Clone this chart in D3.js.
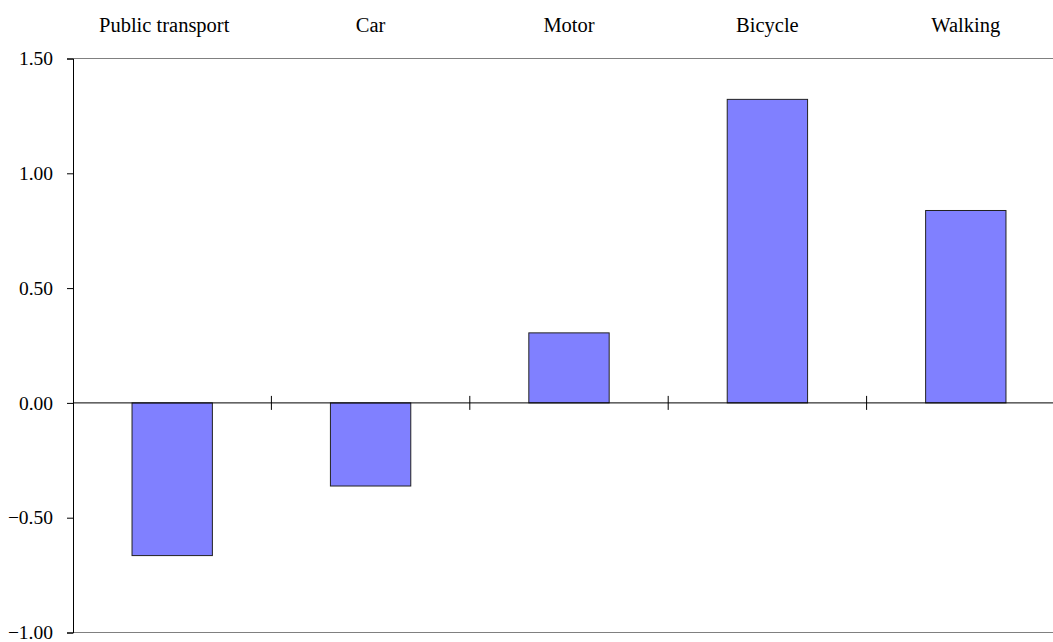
<!DOCTYPE html>
<html><head><meta charset="utf-8">
<script src="https://cdn.jsdelivr.net/npm/d3@7/dist/d3.min.js"></script>
<style>body{margin:0;background:#fff}svg{display:block}</style>
</head><body><svg id="c" width="1053" height="642"></svg>
<script>
const categories = ["Public transport","Car","Motor","Bicycle","Walking"];
const values = [-0.665, -0.362, 0.305, 1.322, 0.838];
const yTicks = [-1.0,-0.5,0,0.5,1.0,1.5];

const FONT = "'Liberation Serif', 'Times New Roman', Times, serif";
const svg = d3.select("#c");
const mLeft = 73, mRight = 1065, mTop = 58.5, mBottom = 632.5;
const x = d3.scaleBand().domain(categories).range([mLeft, mRight]);
const y = d3.scaleLinear().domain([-1, 1.5]).range([mBottom, mTop]);

svg.append("line").attr("x1",mLeft).attr("x2",1053).attr("y1",y(1.5)).attr("y2",y(1.5)).attr("stroke","#808080");
svg.append("line").attr("x1",mLeft).attr("x2",1053).attr("y1",y(-1)).attr("y2",y(-1)).attr("stroke","#808080");

const bw = x.bandwidth()*0.405;
svg.selectAll("rect.bar").data(categories).enter().append("rect")
  .attr("x", d=>x(d)+x.bandwidth()/2-bw/2)
  .attr("width", bw)
  .attr("y", (d,i)=>y(Math.max(0,values[i])))
  .attr("height", (d,i)=>Math.abs(y(values[i])-y(0)))
  .attr("fill","#8080FF").attr("stroke","#222").attr("stroke-width",1);

const yAxis = d3.axisLeft(y).tickValues(yTicks).tickFormat(d3.format(".2f")).tickSize(6).tickPadding(14);
const ga = svg.append("g").attr("transform",`translate(${mLeft},0)`).call(yAxis)
  .attr("font-family", FONT).attr("font-size", 19.5);
ga.select(".domain").attr("stroke","#000");
ga.selectAll(".tick line").attr("stroke","#000");
ga.selectAll("text").attr("fill","#000");

svg.append("line").attr("x1",mLeft).attr("x2",1053).attr("y1",y(0)).attr("y2",y(0)).attr("stroke","#000");
svg.selectAll("line.ct").data(categories.slice(1)).enter().append("line")
  .attr("x1",d=>x(d)).attr("x2",d=>x(d))
  .attr("y1",y(0)-7).attr("y2",y(0)+7).attr("stroke","#000");

svg.selectAll("text.cat").data(categories).enter().append("text")
  .attr("x",(d,i)=>x(d)+x.bandwidth()/2 - (i===0?8:0))
  .attr("y",32).attr("text-anchor","middle")
  .attr("font-family", FONT).attr("font-size", 20.5).attr("fill","#000")
  .text(d=>d);
</script></body></html>
